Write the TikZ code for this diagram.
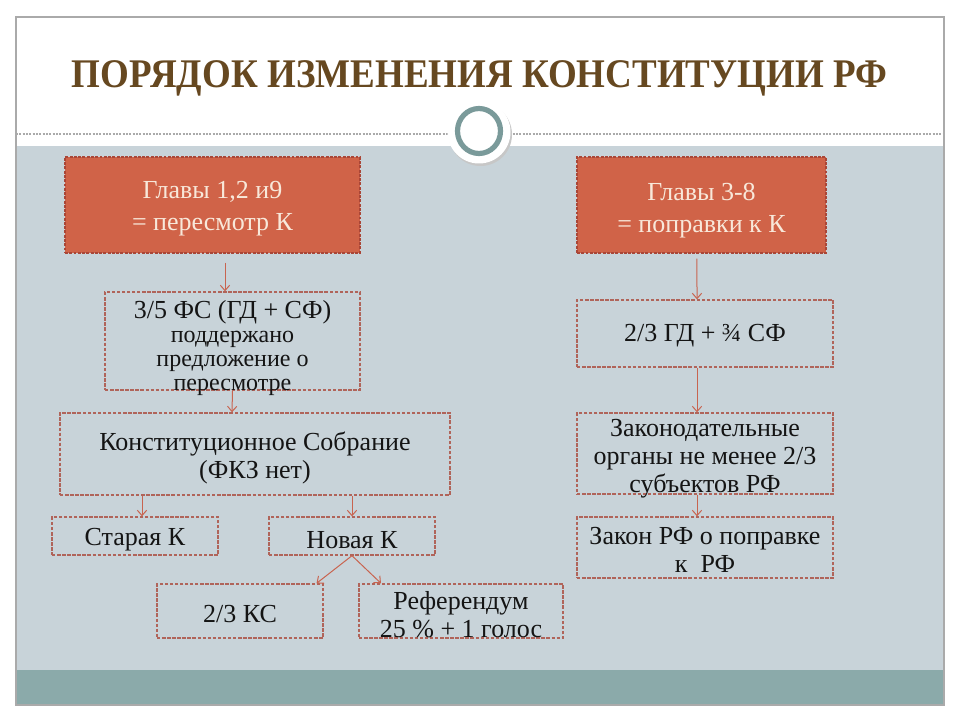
\documentclass[tikz,border=0pt]{standalone}
\usepackage{fontspec}
\setmainfont{Liberation Serif}
\newfontfamily\titlefont{Liberation Serif}
\usetikzlibrary{arrows.meta,shadows}
\definecolor{bodybg}{RGB}{200,211,217}
\definecolor{band}{RGB}{139,170,170}
\definecolor{orangefill}{RGB}{208,99,72}
\definecolor{orangeedge}{RGB}{170,70,55}
\definecolor{dashedge}{RGB}{176,100,90}
\definecolor{arrowcol}{RGB}{200,100,80}
\definecolor{titlecol}{RGB}{102,72,32}
\definecolor{ringcol}{RGB}{122,154,154}
\definecolor{framecol}{RGB}{170,170,170}
\definecolor{headtext}{RGB}{248,232,218}
\definecolor{textcol}{RGB}{20,20,20}
\tikzset{
  obox/.style={draw=orangeedge, fill=orangefill, line width=0.9pt, dash pattern=on 2.2pt off 1pt, inner sep=0pt},
  dbox/.style={draw=dashedge, line width=1pt, dash pattern=on 2.6pt off 1.2pt, inner sep=0pt},
  htext/.style={text=headtext, align=center, font=\fontsize{19.5}{24}\selectfont, inner sep=0pt},
  btext/.style={text=textcol, align=center, font=\fontsize{19.5}{21}\selectfont, inner sep=0pt},
  arr/.style={draw=arrowcol, line width=0.75pt, -{Straight Barb[length=4pt,width=7pt]}}
}
\begin{document}
\begin{tikzpicture}[x=0.75pt,y=-0.75pt]
\useasboundingbox (0,0) rectangle (960,720);
\fill[white] (0,0) rectangle (960,720);
% frame and background
\fill[bodybg] (16,146) rectangle (944,670);
\fill[band] (16,670) rectangle (944,705);
\draw[framecol, line width=0.8pt] (16,17) rectangle (944,705);
\draw[framecol, line width=0.8pt, dash pattern=on 1.5pt off 1pt] (16,134) -- (944,134);
% emblem
\fill[black!22] (480.5,134.5) circle [radius=31.5];
\fill[white] (479,132) circle [radius=31.5];
\draw[ringcol, line width=3.9pt] (479,131) ellipse [x radius=21.5, y radius=22.5];
% title
\node[text=titlecol, inner sep=0pt] (title) at (479.5,78)
  {\scalebox{0.91}[1]{\titlefont\bfseries\fontsize{30.5}{34}\selectfont ПОРЯДОК ИЗМЕНЕНИЯ КОНСТИТУЦИИ РФ}};
% boxes
\node[obox, minimum width=295*0.75pt, minimum height=96*0.75pt] (g1) at (212.5,205) {};
\node[obox, minimum width=249*0.75pt, minimum height=96*0.75pt] (g2) at (701.5,205) {};
\node[dbox, minimum width=255*0.75pt, minimum height=98*0.75pt] (b3) at (232.5,341) {};
\node[dbox, minimum width=390*0.75pt, minimum height=82*0.75pt] (b4) at (255,454) {};
\node[dbox, minimum width=166*0.75pt, minimum height=38*0.75pt] (stara) at (135,536) {};
\node[dbox, minimum width=166*0.75pt, minimum height=38*0.75pt] (nova) at (352,536) {};
\node[dbox, minimum width=166*0.75pt, minimum height=54*0.75pt] (ks) at (240,611) {};
\node[dbox, minimum width=204*0.75pt, minimum height=54*0.75pt] (ref) at (461,611) {};
\node[dbox, minimum width=256*0.75pt, minimum height=67*0.75pt] (r1) at (705,333.5) {};
\node[dbox, minimum width=256*0.75pt, minimum height=81*0.75pt] (r2) at (705,453.5) {};
\node[dbox, minimum width=256*0.75pt, minimum height=61*0.75pt] (r3) at (705,547.5) {};
% texts
\node[htext] (g1t) at (212.5,209) {Главы 1,2 и9\\= пересмотр К};
\node[htext] (g2t) at (701.5,211) {Главы 3-8\\= поправки к К};
\node[btext, font=\fontsize{18}{18}\selectfont] (b3t) at (232.5,348)
  {{\fontsize{19.5}{18}\selectfont 3/5 ФС (ГД + СФ)}\\[0.5pt]поддержано\\предложение о\\пересмотре};
\node[btext] (b4t) at (255,458) {Конституционное Собрание\\(ФКЗ нет)};
\node[btext] (start) at (135,540) {Старая К};
\node[btext] (novat) at (352,540) {Новая К};
\node[btext] (kst) at (240,614) {2/3 КС};
\node[btext] (reft) at (461,615) {Референдум\\25 \% + 1 голос};
\node[btext] (r1t) at (705,336) {2/3 ГД + ¾ СФ};
\node[btext] (r2t) at (705,459) {Законодательные\\органы не менее 2/3\\субъектов РФ};
\node[btext] (r3t) at (705,550) {Закон РФ о поправке\\к\ \ РФ};
% arrows
\draw[arr, shorten <=6.75pt] ([xshift=9.375pt]g1.south) -- ([xshift=-5.625pt]b3.north);
\draw[arr] (b3.south) -- ([xshift=-17.25pt]b4.north);
\draw[arr] ([xshift=-84.75pt]b4.south) -- ([xshift=5.25pt]stara.north);
\draw[arr] ([xshift=72.75pt]b4.south) -- (nova.north);
\draw[arr] (nova.south) -- ([xshift=57.4pt]ks.north);
\draw[arr] (nova.south) -- ([xshift=-60pt]ref.north);
\draw[arr, shorten <=3.75pt] ([xshift=-3.4pt]g2.south) -- ([xshift=-6pt]r1.north);
\draw[arr] ([xshift=-6pt]r1.south) -- ([xshift=-6pt]r2.north);
\draw[arr] ([xshift=-6pt]r2.south) -- ([xshift=-6pt]r3.north);
\end{tikzpicture}
\end{document}
